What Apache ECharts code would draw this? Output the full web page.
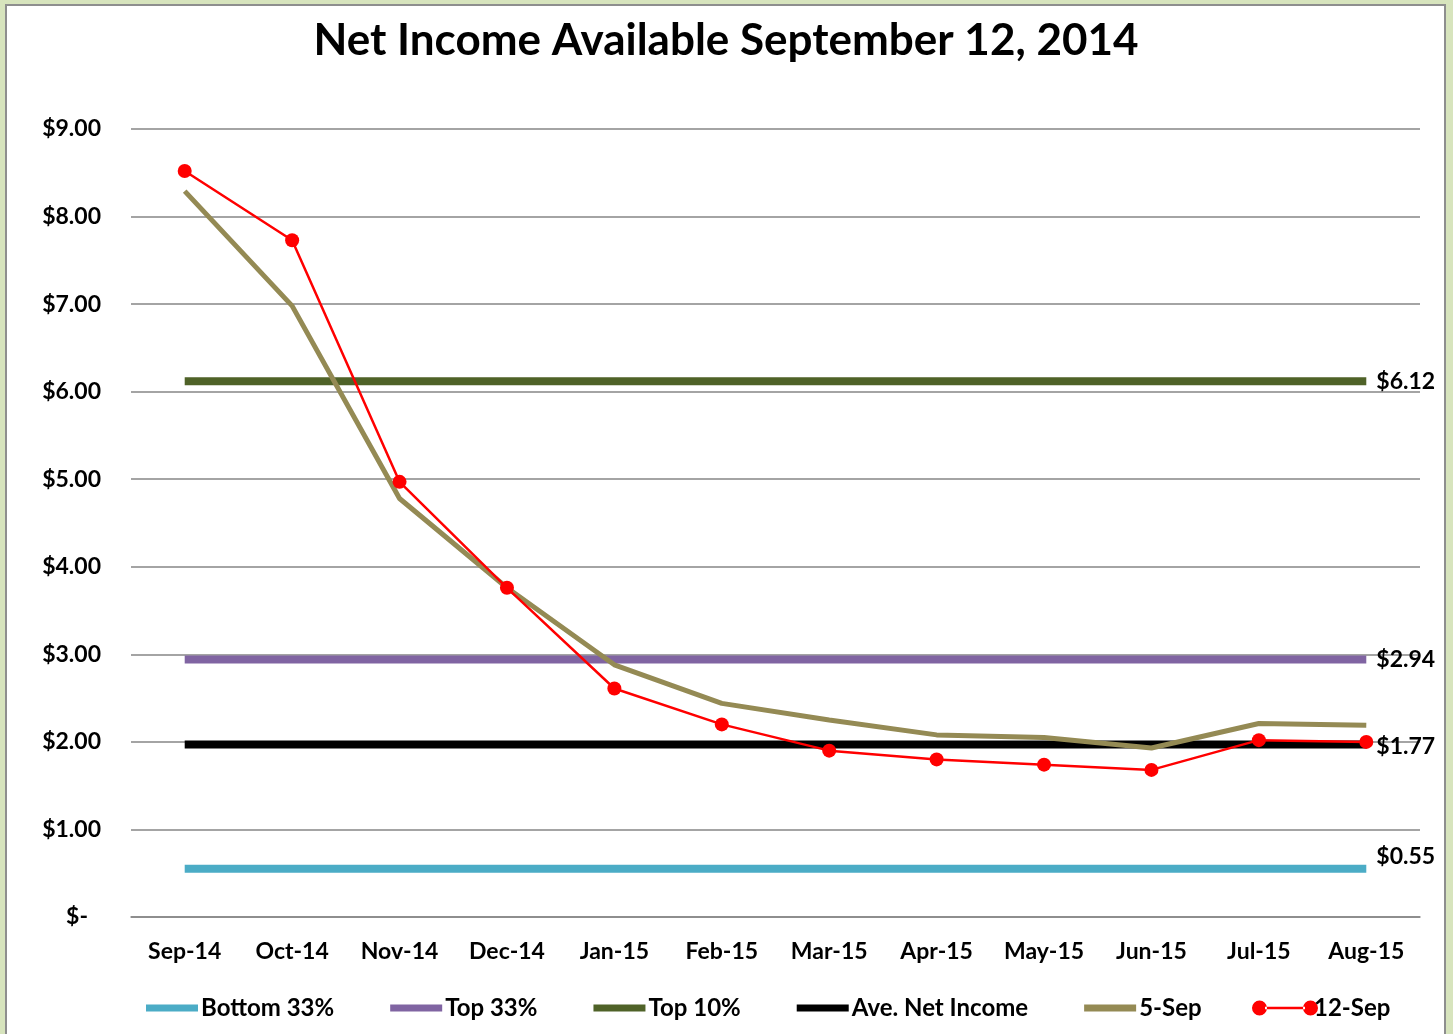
<!DOCTYPE html>
<html><head><meta charset="utf-8">
<script src="https://cdn.jsdelivr.net/npm/echarts@6/dist/echarts.min.js"></script>
<style>
html,body{margin:0;padding:0;width:1453px;height:1034px;overflow:hidden;background:#d7e4bd;}
#frame{position:absolute;left:5px;top:4px;width:1437px;height:1040px;background:#fff;border:2px solid #8e8e8e;}
#chart{position:absolute;left:0;top:0;width:1453px;height:1034px;}
</style></head>
<body><div id="frame"></div><div id="chart"></div>
<script>
const categories = ['Sep-14','Oct-14','Nov-14','Dec-14','Jan-15','Feb-15','Mar-15','Apr-15','May-15','Jun-15','Jul-15','Aug-15'];
const sep5 = [8.29, 6.98, 4.78, 3.76, 2.88, 2.44, 2.25, 2.08, 2.05, 1.93, 2.21, 2.19];
const sep12 = [8.52, 7.73, 4.97, 3.76, 2.61, 2.20, 1.90, 1.80, 1.74, 1.68, 2.02, 2.00];
const bottom33 = 0.55, top33 = 2.94, top10 = 6.12, aveNet = 1.97;
const refLabels = {bottom33:'$0.55', top33:'$2.94', top10:'$6.12', aveNet:'$1.77'};

const FONT = 'Lato';
function flat(v){ return categories.map(()=>v); }
function refSeries(name, v, label, color, offY){
  return {name, type:'line', data:flat(v), showSymbol:false, symbol:'none',
    lineStyle:{color, width:8, cap:'butt'}, itemStyle:{color},
    endLabel:{show:true, formatter:label, distance:10, offset:[0,offY||0], color:'#000', fontFamily:FONT, fontWeight:'bold', fontSize:23},
    silent:true};
}
const legendText = {fontFamily:FONT, fontWeight:'bold', fontSize:24, color:'#000'};
const axisFont = {color:'#000', fontFamily:FONT, fontWeight:'bold', fontSize:23};
const chart = echarts.init(document.getElementById('chart'));
chart.setOption({
  animation:false,
  title:{text:'Net Income Available September 12, 2014', left:721, textAlign:'center', top:14,
    textStyle:{fontFamily:FONT, fontWeight:'bold', fontSize:44, color:'#000'}},
  grid:{left:131, right:33, top:129, bottom:117},
  legend:[
    {left:141, top:991, itemWidth:52, itemHeight:7, itemGap:56, icon:'rect',
     textStyle:Object.assign({padding:[0,0,0,-2]}, legendText),
     data:['Bottom 33%','Top 33%','Top 10%','Ave. Net Income','5-Sep']},
    {left:1247, top:991, itemWidth:66, itemHeight:15, itemGap:0,
     textStyle:Object.assign({padding:[0,0,0,-9]}, legendText),
     data:[{name:'12-Sep', icon:'path://M0,7.5a7.5,7.5 0 1,0 15,0a7.5,7.5 0 1,0 -15,0Z M13,6.2h40v2.6h-40Z M51,7.5a7.5,7.5 0 1,0 15,0a7.5,7.5 0 1,0 -15,0Z'}]}
  ],
  xAxis:{type:'category', data:categories, boundaryGap:true,
    axisLine:{show:true, lineStyle:{color:'#868686', width:1.5}}, axisTick:{show:false},
    axisLabel:Object.assign({margin:23}, axisFont)},
  yAxis:{type:'value', min:0, max:9, interval:1,
    axisLine:{show:false}, axisTick:{show:false},
    splitLine:{lineStyle:{color:'#868686', width:1.5}},
    axisLabel:Object.assign({margin:30,
      formatter:v=> v===0 ? '{z|$-}' : '$'+v.toFixed(2),
      rich:{z:Object.assign({padding:[0,13,0,0]}, axisFont)}}, axisFont)},
  series:[
    refSeries('Bottom 33%', bottom33, refLabels.bottom33, '#4bacc6', -12),
    refSeries('Top 33%', top33, refLabels.top33, '#8064a2', 0),
    refSeries('Top 10%', top10, refLabels.top10, '#4f6228', 0),
    refSeries('Ave. Net Income', aveNet, refLabels.aveNet, '#000000', 2),
    {name:'5-Sep', type:'line', data:sep5, showSymbol:false, symbol:'none',
      lineStyle:{color:'#948a54', width:5}, itemStyle:{color:'#948a54'}},
    {name:'12-Sep', type:'line', data:sep12, symbol:'circle', symbolSize:14, showSymbol:true,
      lineStyle:{color:'#ff0000', width:2.5}, itemStyle:{color:'#ff0000'}}
  ]
});
</script></body></html>
